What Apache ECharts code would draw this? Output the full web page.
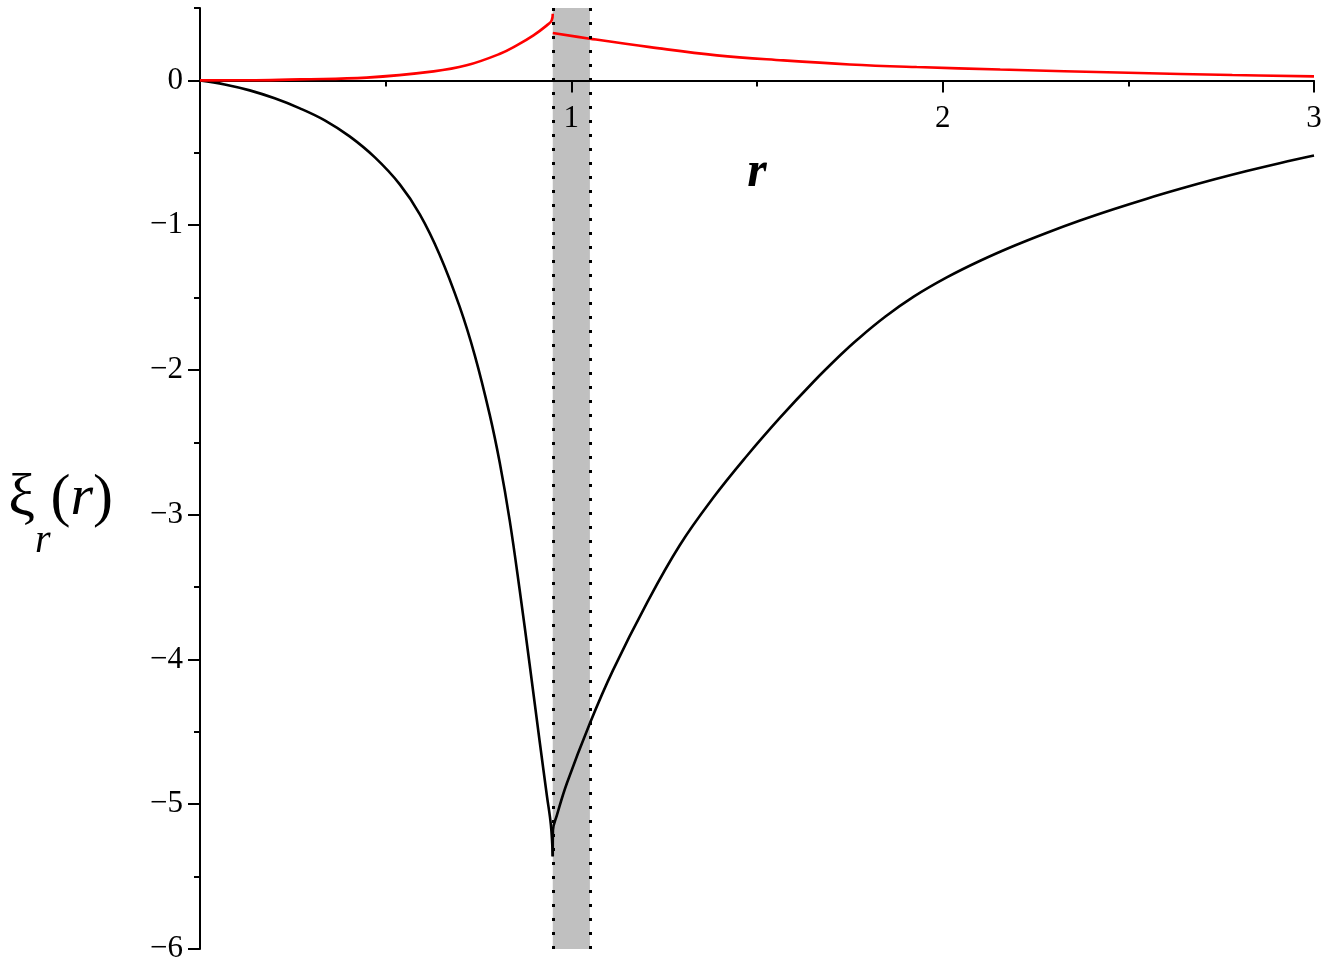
<!DOCTYPE html>
<html>
<head>
<meta charset="utf-8">
<script src="https://cdn.jsdelivr.net/npm/echarts@6/dist/echarts.min.js"></script>
<style>
html,body{margin:0;padding:0;background:#fff;}
#chart{width:1330px;height:974px;}
</style>
</head>
<body>
<div id="chart"></div>
<script>
// ---- data ----
const blackLeftR = [0, 0.0665, 0.134, 0.201, 0.269, 0.336, 0.403, 0.471, 0.538, 0.592, 0.645, 0.699, 0.740, 0.780, 0.807, 0.834, 0.861, 0.888, 0.915, 0.934, 0.945, 0.95];
const blackLeftY = [0, -0.028, -0.069, -0.124, -0.193, -0.276, -0.387, -0.532, -0.718, -0.925, -1.202, -1.561, -1.899, -2.307, -2.638, -3.039, -3.522, -4.040, -4.572, -4.938, -5.145, -5.36];
const blackRightR = [0.95, 0.9505, 0.961, 0.988, 1.050, 1.112, 1.203, 1.292, 1.381, 1.473, 1.562, 1.651, 1.724, 1.769, 1.845, 1.922, 2.011, 2.101, 2.191, 2.281, 2.370, 2.460, 2.550, 2.640, 2.730, 2.819, 2.910, 3.0];
const blackRightY = [-5.36, -5.18, -5.077, -4.855, -4.44, -4.075, -3.612, -3.211, -2.887, -2.593, -2.330, -2.085, -1.899, -1.793, -1.633, -1.494, -1.361, -1.246, -1.144, -1.052, -0.968, -0.890, -0.817, -0.749, -0.685, -0.626, -0.570, -0.519];
const redLeftR = [0, 0.15, 0.27, 0.449, 0.629, 0.718, 0.808, 0.853, 0.898, 0.934, 0.947, 0.95];
const redLeftY = [0, 0.001, 0.007, 0.019, 0.062, 0.104, 0.184, 0.242, 0.311, 0.38, 0.414, 0.46];
const redRightR = [0.95, 1.05, 1.212, 1.392, 1.571, 1.75, 1.93, 2.155, 2.5, 2.78, 3.0];
const redRightY = [0.327, 0.288, 0.23, 0.173, 0.138, 0.11, 0.092, 0.075, 0.053, 0.037, 0.028];
const band = [0.95, 1.05];
const xTicks = [1, 2, 3];
const yTicks = [-6, -5, -4, -3, -2, -1, 0];
const xRange = [0, 3];
const yRange = [-6, 0.5];

const pair = (xs, ys) => xs.map((x, i) => [x, ys[i]]);
const FONT = 'Liberation Serif';
const fmtMinus = v => String(v).replace('-', '\u2212');

const chart = echarts.init(document.getElementById('chart'), null, {renderer: 'canvas'});
const lineSeries = (name, data, color, extra) => Object.assign({
  type: 'line', name, data, showSymbol: false, symbol: 'none',
  smooth: 0.4, z: 4, silent: true, yAxisIndex: 0,
  lineStyle: {color, width: 2.6}, animation: false
}, extra || {});

// pixel position of y = 0 inside the grid
const gridTop = 8, gridBottom = 25, chartH = 974;
const zeroOffset = (yRange[1] - 0) / (yRange[1] - yRange[0]) * (chartH - gridTop - gridBottom);

chart.setOption({
  animation: false,
  backgroundColor: '#fff',
  grid: {left: 200, right: 16, top: gridTop, bottom: gridBottom, containLabel: false, outerBoundsMode: 'none'},
  xAxis: {
    type: 'value', min: xRange[0], max: xRange[1], interval: 1, z: 3,
    position: 'top', offset: -zeroOffset,
    axisLine: {onZero: false, lineStyle: {color: '#000', width: 2}},
    axisTick: {inside: true, length: 12, lineStyle: {color: '#000', width: 2}},
    minorTick: {show: true, splitNumber: 2, length: 6, lineStyle: {color: '#000', width: 2}},
    splitLine: {show: false}, minorSplitLine: {show: false},
    axisLabel: {
      inside: true, customValues: xTicks, margin: 23, fontSize: 31, fontFamily: FONT, color: '#000',
      formatter: v => fmtMinus(v)
    },
    name: 'r', nameLocation: 'middle', nameGap: -118,
    nameTextStyle: {fontSize: 50, fontStyle: 'italic', fontWeight: 'bold', fontFamily: FONT, color: '#000'}
  },
  yAxis: [{
    type: 'value', min: yRange[0], max: yRange[1], interval: 1, z: 3,
    axisLine: {onZero: false, lineStyle: {color: '#000', width: 2}},
    axisTick: {customValues: yTicks, length: 12, lineStyle: {color: '#000', width: 2}},
    splitLine: {show: false},
    axisLabel: {
      customValues: yTicks, margin: 17, fontSize: 31, fontFamily: FONT, color: '#000',
      formatter: v => fmtMinus(v)
    },
    name: '{g|\u03be}{s|r}{g|(}{i|r}{g|)}',
    nameLocation: 'middle', nameRotate: 0, nameGap: 87,
    nameTextStyle: {
      padding: [74, 0, 0, 0],
      rich: {
        g: {fontSize: 60, fontFamily: FONT, color: '#000', verticalAlign: 'top', lineHeight: 70},
        i: {fontSize: 58, fontFamily: FONT, fontStyle: 'italic', color: '#000', verticalAlign: 'top', lineHeight: 70},
        s: {fontSize: 40, fontFamily: FONT, fontStyle: 'italic', color: '#000', verticalAlign: 'bottom', lineHeight: 92}
      }
    }
  }, {
    type: 'value', min: yRange[0], max: yRange[1], interval: 0.5, z: 3, position: 'left',
    axisLine: {show: false, onZero: false},
    axisTick: {length: 6, lineStyle: {color: '#000', width: 2}},
    axisLabel: {show: false}, splitLine: {show: false}
  }],
  series: [
    lineSeries('black-left', pair(blackLeftR, blackLeftY), '#000', {
      markArea: {
        silent: true, z: 1,
        itemStyle: {color: '#c0c0c0'},
        data: [[{xAxis: band[0]}, {xAxis: band[1]}]]
      },
      markLine: {
        silent: true, symbol: 'none', z: 5, animation: false,
        label: {show: false},
        lineStyle: {color: '#000', width: 3, type: [3, 11]},
        data: [{xAxis: band[0]}, {xAxis: band[1]}]
      }
    }),
    lineSeries('black-right', pair(blackRightR, blackRightY), '#000'),
    lineSeries('red-left', pair(redLeftR, redLeftY), '#ff0000'),
    lineSeries('red-right', pair(redRightR, redRightY), '#ff0000')
  ]
});
</script>
</body>
</html>
